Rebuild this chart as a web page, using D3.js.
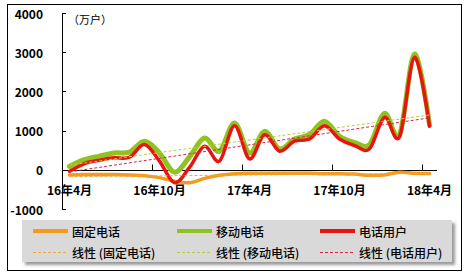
<!DOCTYPE html>
<html>
<head>
<meta charset="utf-8">
<script src="https://cdn.jsdelivr.net/npm/d3@7"></script>
<style>
  body { margin: 0; background: #fff; }
  text { font-family: "Noto Sans CJK SC", "Noto Sans", sans-serif; }
</style>
</head>
<body>
<div id="chart"></div>
<script>
// 月份类别 16年4月 ~ 18年4月
const months = [];
for (let y = 16, m = 4; months.length < 25; m++) {
    if (m > 12) { m = 1; y++; }
    months.push(y + "年" + m + "月");
}
const tickMonths = ["16年4月", "16年10月", "17年4月", "17年10月", "18年4月"];
const yTicks = [-1000, 0, 1000, 2000, 3000, 4000];

// 固定电话
const fixedVals = [-130, -120, -120, -120, -130, -150, -200, -290, -330, -220, -140, -100, -90,
    -90, -90, -90, -90, -100, -100, -110, -140, -130, -60, -90, -95];
// 移动电话
const mobileVals = [90, 260, 350, 430, 450, 730, 430, -60, 330, 810, 475, 1195, 430,
    980, 535, 785, 900, 1240, 855, 700, 645, 1440, 890, 2950, 1150];
// 电话用户
const totalVals = [-40, 160, 245, 305, 320, 645, 220, -330, 60, 600, 220, 1125, 280,
    895, 475, 730, 785, 1125, 785, 620, 535, 1340, 840, 2870, 1110];

const seriesNames = ["固定电话", "移动电话", "电话用户"];
const colors = ["#f59a1c", "#8fc31f", "#e8150f"];
const trendColors = ["#f2a83c", "#b5cf3a", "#d8234e"];
const widths = [3.5, 5, 3.5];

const W = 472, H = 276;
const svg = d3.select("#chart").append("svg")
    .attr("width", W).attr("height", H);

// 外框
svg.append("rect")
    .attr("x", 7.5).attr("y", 4.5).attr("width", 454).attr("height", 266)
    .attr("fill", "#fff").attr("stroke", "#000").attr("stroke-width", 1);

// 比例尺
const x = d3.scaleBand().domain(months).range([62, 437]);
const y = d3.scaleLinear().domain([-1000, 4000]).range([209, 13]);
const cx = d => x(d) + x.bandwidth() / 2;

// Y轴
svg.append("line").attr("x1", 62.5).attr("x2", 62.5)
    .attr("y1", y(4000)).attr("y2", y(-1000)).attr("stroke", "#000");
svg.selectAll(".ytick").data(yTicks).enter().append("line")
    .attr("x1", 62).attr("x2", 66)
    .attr("y1", d => Math.round(y(d)) + 0.5).attr("y2", d => Math.round(y(d)) + 0.5)
    .attr("stroke", "#000");
svg.selectAll(".ylab").data(yTicks).enter().append("text")
    .attr("x", 43).attr("y", d => y(d))
    .attr("text-anchor", "end").attr("dominant-baseline", "central")
    .style("font-size", "12px").style("font-weight", "bold")
    .text(d => d);

svg.append("text").attr("x", 68).attr("y", 19)
    .attr("dominant-baseline", "central")
    .style("font-size", "11px")
    .text("（万户）");

// X轴 (零线)
const y0 = Math.round(y(0)) + 0.5;
svg.append("line").attr("x1", 62).attr("x2", 437)
    .attr("y1", y0).attr("y2", y0).attr("stroke", "#000");
svg.selectAll(".xtick").data(tickMonths).enter().append("line")
    .attr("x1", d => Math.round(x(d)) + 0.5).attr("x2", d => Math.round(x(d)) + 0.5)
    .attr("y1", y0 - 6).attr("y2", y0)
    .attr("stroke", "#000");

// 折线
const allVals = [fixedVals, mobileVals, totalVals];
const line = d3.line()
    .x((d, i) => cx(months[i]))
    .y(d => y(d))
    .curve(d3.curveCardinal.tension(0));

allVals.forEach((vals, k) => {
    svg.append("path").datum(vals)
        .attr("d", line)
        .attr("fill", "none")
        .attr("stroke", colors[k])
        .attr("stroke-width", widths[k])
        .attr("stroke-linejoin", "round")
        .attr("stroke-linecap", "round");
});

// 线性趋势线 (最小二乘)
allVals.forEach((vals, k) => {
    const n = vals.length;
    const mx = d3.mean(vals, (d, i) => i);
    const my = d3.mean(vals);
    const sxy = d3.sum(vals, (d, i) => (i - mx) * (d - my));
    const sxx = d3.sum(vals, (d, i) => (i - mx) * (i - mx));
    const b = sxy / sxx, a = my - b * mx;
    svg.append("line")
        .attr("x1", cx(months[0])).attr("y1", y(a))
        .attr("x2", cx(months[n - 1])).attr("y2", y(a + b * (n - 1)))
        .attr("stroke", trendColors[k])
        .attr("stroke-width", 1)
        .attr("stroke-dasharray", "3,2");
});

// X轴标签
svg.selectAll(".xlab").data(tickMonths).enter().append("text")
    .attr("x", d => cx(d)).attr("y", 189)
    .attr("text-anchor", "middle").attr("dominant-baseline", "central")
    .style("font-size", "12px").style("font-weight", "bold")
    .text(d => d);

// 图例
const defs = svg.append("defs");
defs.append("filter").attr("id", "blur")
    .append("feGaussianBlur").attr("stdDeviation", 1.5);
svg.append("rect").attr("x", 25).attr("y", 223).attr("width", 430).attr("height", 42)
    .attr("fill", "#9a9a9a").attr("filter", "url(#blur)");
svg.append("rect").attr("x", 22).attr("y", 220).attr("width", 430).attr("height", 42)
    .attr("fill", "#d9d9d9");

const legendCols = [33, 177, 320];
const legendRows = [231, 252.5];
seriesNames.forEach((name, k) => {
    const lx = legendCols[k];
    svg.append("line")
        .attr("x1", lx).attr("x2", lx + 35)
        .attr("y1", legendRows[0]).attr("y2", legendRows[0])
        .attr("stroke", colors[k]).attr("stroke-width", 4);
    svg.append("text").attr("x", lx + 39).attr("y", legendRows[0])
        .attr("dominant-baseline", "central")
        .style("font-size", "12px").style("font-weight", "500")
        .text(name);
    svg.append("line")
        .attr("x1", lx).attr("x2", lx + 35)
        .attr("y1", legendRows[1]).attr("y2", legendRows[1])
        .attr("stroke", trendColors[k]).attr("stroke-width", 1)
        .attr("stroke-dasharray", "3,2");
    svg.append("text").attr("x", lx + 39).attr("y", legendRows[1])
        .attr("dominant-baseline", "central")
        .style("font-size", "12px").style("font-weight", "500")
        .text("线性 (" + name + ")");
});
</script>
</body>
</html>
